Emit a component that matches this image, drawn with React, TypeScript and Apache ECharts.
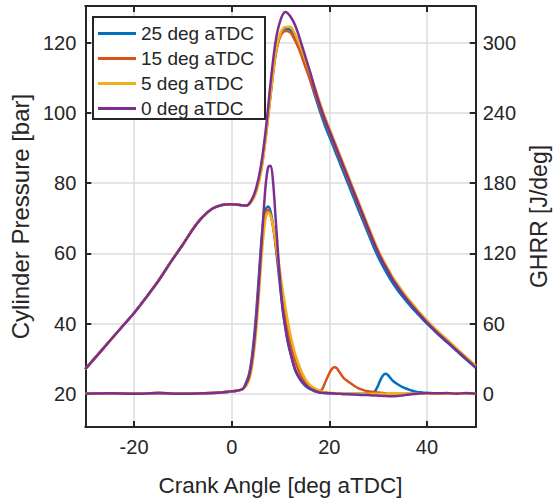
import React, { useEffect, useRef } from "react";
import * as echarts from "echarts";

// ---------- data ----------
const NAMES = ["25 deg aTDC", "15 deg aTDC", "5 deg aTDC", "0 deg aTDC"];
const COLORS = ["#0072BD", "#D95319", "#EDB120", "#7E2F8E"];

const X_TICKS = [-20, 0, 20, 40];
const P_TICKS = [20, 40, 60, 80, 100, 120];
const G_TICKS = [0, 60, 120, 180, 240, 300];

// cylinder pressure, compression part shared by all cases
const CA_P_PRE = [-30, -27.5, -25, -22.5, -20, -17.5, -15, -12.5, -10, -8, -6, -4, -2, 0, 2, 3];
const P_PRE = [27, 31, 35, 39, 43, 47.5, 52.2, 57.5, 62.5, 66.8, 70.3, 72.7, 73.8, 74, 73.7, 73.6];

const CA_P_POST = [4, 5, 6, 7, 8, 9, 10, 11, 12, 13, 14, 15, 16, 17, 18, 19, 20, 21, 22, 23, 24, 25, 26, 27, 28, 29, 30, 31, 32, 33, 34, 35, 36, 37, 38, 39, 40, 42, 44, 46, 48, 50];
const P_25 = [74.8, 78, 84, 94, 106, 117, 122.5, 124.1, 123.7, 121.5, 118, 114, 109.7, 105.2, 100.8, 96.8, 93.3, 89.8, 86.3, 82.8, 79.3, 75.8, 72.3, 68.9, 65.5, 62.1, 59, 56.3, 53.8, 51.5, 49.5, 47.7, 46, 44.4, 42.9, 41.4, 40, 37.3, 34.8, 32.3, 29.8, 27.4];
const P_15 = [74.8, 77.8, 83.5, 93.5, 105.5, 116.5, 122, 123.4, 123, 120.6, 117.5, 113.5, 109.8, 105.8, 101.8, 98, 94.5, 91, 87.5, 84, 80.5, 77, 73.5, 70, 66.6, 63.2, 60.2, 57.5, 55, 52.7, 50.7, 48.8, 47, 45.3, 43.7, 42.1, 40.6, 37.8, 35.3, 32.8, 30.3, 27.8];
const P_5 = [74.6, 77.3, 83, 93, 105.5, 117, 122.8, 124.5, 124.6, 122.4, 119.2, 115.5, 111.6, 107.5, 103.3, 99.3, 95.7, 92.2, 88.7, 85.2, 81.7, 78.2, 74.7, 71.2, 67.7, 64.3, 61, 58.2, 55.7, 53.2, 51.2, 49.2, 47.4, 45.7, 44, 42.4, 40.9, 38.1, 35.6, 33, 30.5, 28];
const P_0 = [75, 78.5, 85, 95.5, 109, 120.5, 126.5, 128.8, 127.6, 125, 121, 116.5, 112, 107, 102.5, 98.5, 95, 91.5, 88, 84.5, 81, 77.5, 74, 70.5, 67, 63.5, 60.3, 57.5, 55, 52.5, 50.5, 48.5, 46.7, 45, 43.4, 41.8, 40.3, 37.5, 35, 32.5, 30, 27.5];

// gross heat release rate, baseline shared by all cases
const CA_G_PRE = [-30, -25, -20, -15, -10, -6, -4, -2, -1, 0, 1, 2, 2.5];
const G_PRE = [0, 0.3, 0, 0.5, 0, 0.3, 0.5, 1, 1.5, 2, 2.5, 3.5, 5];

const CA_G_POST = [3, 3.5, 4, 4.5, 5, 5.5, 6, 6.5, 7, 7.5, 8, 8.5, 9, 9.5, 10, 10.5, 11, 11.5, 12, 13, 14, 15, 16, 17, 18, 18.5, 19, 19.5, 20, 20.5, 21, 21.5, 22, 22.5, 23, 24, 25, 26, 27, 28, 29, 29.5, 30, 30.5, 31, 31.5, 32, 32.5, 33, 34, 35, 36, 37, 38, 39, 40, 42, 44, 46, 48, 50];
const G_25 = [10, 16, 27, 45, 68, 97, 126, 148, 158, 160, 155, 143, 127, 108, 88, 70, 56, 44, 35, 20, 12, 7, 4, 2, 1, 0.8, 0.5, 0.5, 0.3, 0.3, 0.2, 0.2, 0, 0, 0, 0, 0, 0, 0, 0.3, 1, 3, 7, 12, 15.5, 17, 16, 13.5, 11, 8, 5.5, 4, 2.5, 1.5, 1, 0.5, 0.3, 0.2, 0, 0, 0];
const G_15 = [9, 14, 24, 40, 62, 90, 118, 142, 155, 157, 152, 142, 128, 112, 95, 80, 66, 54, 44, 28, 17, 10, 6, 3.5, 2.5, 3.5, 8, 13, 17.5, 21, 22.5, 22, 19, 16, 13, 10, 7, 4.5, 3, 2, 1.5, 1.2, 1, 0.8, 0.5, 0.3, 0, 0, 0, 0, 0, 0, 0, 0, 0, 0, 0, 0, 0, 0, 0];
const G_5 = [7, 11, 19, 33, 53, 80, 110, 135, 151, 155, 152, 143, 130, 116, 101, 87, 74, 62, 51, 34, 22, 13, 7.5, 4.5, 2.5, 1.8, 1.2, 1, 0.8, 0.6, 0.5, 0.4, 0.3, 0.2, 0, 0, 0, 0, 0, 0, 0, 0, 0, 0, 0, 0, 0, 0, 0, 0, 0, 0, 0, 0, 0, 0, 0, 0, 0, 0, 0];
const G_0 = [9, 14, 24, 40, 62, 90, 122, 153, 180, 194, 195, 180, 150, 120, 92, 71, 57, 45, 36, 21, 13, 8, 4.5, 2.5, 1, 0.8, 0.5, 0.5, 0.3, 0.3, 0.2, 0, 0, -0.3, -0.5, -0.5, -0.8, -1, -1.2, -1.2, -1.5, -1.5, -1.7, -1.8, -2, -2, -2.2, -2.2, -2.3, -2, -1.5, -1, -0.5, 0, 0.3, 0.5, 0.3, 0.5, 0, 0.5, 0];

const P_POST = [P_25, P_15, P_5, P_0];
const G_POST = [G_25, G_15, G_5, G_0];

const FONT = "'Liberation Sans', Arial, Helvetica, sans-serif";
const INK = "#262626";

function pairs(xs: number[], ys: number[]) {
  return xs.map((x, i) => [x, ys[i]]);
}

export default function App() {
  const ref = useRef<HTMLDivElement>(null);
  useEffect(() => {
    if (!ref.current) return;
    const chart = echarts.init(ref.current, null, { renderer: "svg" });

    const common = (i: number) => ({
      type: "line",
      xAxisIndex: 0,
      showSymbol: false,
      symbol: "none",
      smooth: 0.3,
      lineStyle: { color: COLORS[i], width: 2.5 },
      itemStyle: { color: COLORS[i] },
      z: 2 + i,
    });
    const pSeries = NAMES.map((name, i) => ({
      ...common(i),
      name,
      yAxisIndex: 0,
      data: pairs(CA_P_PRE.concat(CA_P_POST), P_PRE.concat(P_POST[i])),
    }));
    const gSeries = NAMES.map((name, i) => ({
      ...common(i),
      name,
      yAxisIndex: 1,
      data: pairs(CA_G_PRE.concat(CA_G_POST), G_PRE.concat(G_POST[i])),
    }));

    const axisLine = { show: true, onZero: false, lineStyle: { color: INK, width: 2 } };
    const label = { color: INK, fontSize: 20, fontFamily: FONT };
    const grid = { show: true, lineStyle: { color: "#dcdcdc", width: 1.5 } };
    const tick = (values: number[]) => ({
      show: true,
      inside: true,
      length: 6,
      customValues: values,
      lineStyle: { color: INK, width: 2 },
    });

    chart.setOption({
      animation: false,
      backgroundColor: "#ffffff",
      textStyle: { fontFamily: FONT },
      grid: { left: 84, top: 6, width: 399, height: 427, containLabel: false },
      legend: {
        data: NAMES.map((name, i) => ({ name, icon: "rect", itemStyle: { color: COLORS[i] } })),
        orient: "vertical",
        left: 93,
        top: 17,
        itemWidth: 38,
        itemHeight: 3,
        itemGap: 6,
        padding: [7, 11, 1, 5],
        backgroundColor: "#ffffff",
        borderColor: INK,
        borderWidth: 2,
        borderRadius: 0,
        selectedMode: false,
        textStyle: { color: INK, fontSize: 19, fontFamily: FONT, lineHeight: 19 },
      },
      xAxis: [
        {
          type: "value",
          position: "bottom",
          min: -30,
          max: 50,
          axisLine,
          axisTick: tick(X_TICKS),
          axisLabel: { ...label, margin: 10, customValues: X_TICKS },
          splitLine: grid,
          name: "Crank Angle [deg aTDC]",
          nameLocation: "middle",
          nameGap: 47,
          nameTextStyle: { color: INK, fontSize: 22.5, fontFamily: FONT },
        },
        {
          type: "value",
          position: "top",
          min: -30,
          max: 50,
          axisLine,
          axisTick: tick(X_TICKS),
          axisLabel: { show: false },
          splitLine: { show: false },
        },
      ],
      yAxis: [
        {
          type: "value",
          position: "left",
          min: 10.5,
          max: 130.5,
          axisLine,
          axisTick: tick(P_TICKS),
          axisLabel: { ...label, margin: 9, customValues: P_TICKS },
          splitLine: grid,
          name: "Cylinder Pressure [bar]",
          nameLocation: "middle",
          nameGap: 50,
          nameTextStyle: { color: INK, fontSize: 24, fontFamily: FONT },
        },
        {
          type: "value",
          position: "right",
          min: -28.5,
          max: 331.5,
          axisLine,
          axisTick: tick(G_TICKS),
          axisLabel: { ...label, margin: 7, customValues: G_TICKS },
          splitLine: { show: false },
          name: "GHRR [J/deg]",
          nameLocation: "middle",
          nameGap: 50,
          nameRotate: 90,
          nameTextStyle: { color: INK, fontSize: 23, fontFamily: FONT },
        },
      ],
      series: [...pSeries, ...gSeries],
    });
    return () => chart.dispose();
  }, []);

  return (
    <div
      ref={ref}
      style={{ position: "fixed", left: 0, top: 0, width: 558, height: 502, background: "#fff" }}
    />
  );
}
